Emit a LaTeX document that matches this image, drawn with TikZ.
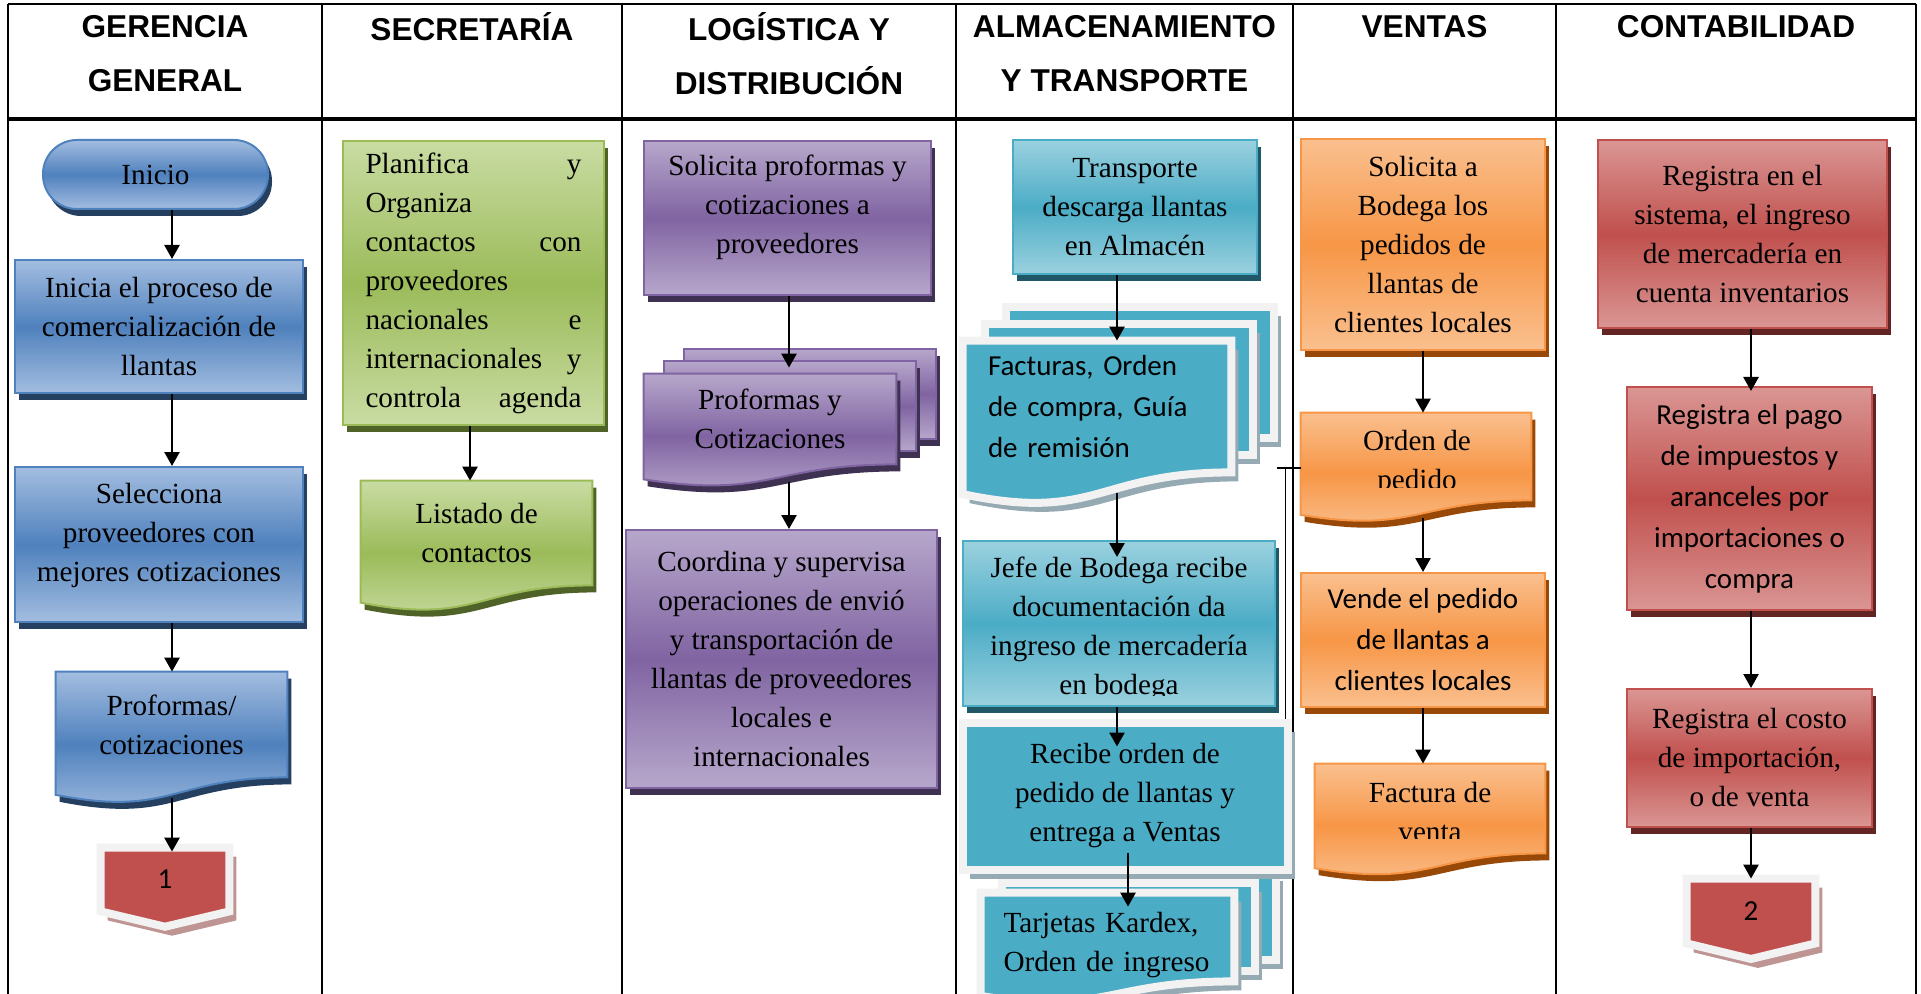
\documentclass[tikz,border=0pt]{standalone}
\usepackage{fontspec}
\setmainfont{Liberation Serif}
\newfontfamily\calibri{Carlito}
\newfontfamily\arial{Liberation Sans}
\usetikzlibrary{arrows.meta}
\usetikzlibrary{calc}
\usetikzlibrary{shadows}
\pgfdeclarelayer{fondo}
\pgfsetlayers{fondo,main}
\newcommand{\serifa}{\fontsize{14.6pt}{19.5pt}\selectfont}
\newcommand{\cali}{\calibri\fontsize{14.5pt}{20.5pt}\selectfont}
\newcommand{\cabeza}{\arial\bfseries\fontsize{15.8pt}{27pt}\selectfont}
\definecolor{azulC}{HTML}{A3BDE0}
\definecolor{azulM}{HTML}{4F81BD}
\definecolor{azulS}{HTML}{243F60}
\definecolor{verdeC}{HTML}{C9DCA3}
\definecolor{verdeM}{HTML}{9BBB59}
\definecolor{verdeS}{HTML}{4F6228}
\definecolor{moradoC}{HTML}{B7A7CB}
\definecolor{moradoM}{HTML}{8064A2}
\definecolor{moradoS}{HTML}{3F3151}
\definecolor{aguaC}{HTML}{9BD1DF}
\definecolor{aguaM}{HTML}{4BACC6}
\definecolor{aguaS}{HTML}{215868}
\definecolor{naranjaC}{HTML}{FAC08F}
\definecolor{naranjaM}{HTML}{F79646}
\definecolor{naranjaS}{HTML}{984807}
\definecolor{rojoC}{HTML}{DA9694}
\definecolor{rojoM}{HTML}{C0504D}
\definecolor{rojoS}{HTML}{632523}
\definecolor{marco}{HTML}{F2F2F2}
\definecolor{grisS}{HTML}{96AAB3}
\definecolor{rosaS}{HTML}{BE9593}
\tikzset{caja/.style = {rectangle, draw = #1M, line width = 1pt, top color = #1C, bottom color = #1C, middle color = #1M, general shadow = {fill = #1S, shadow xshift = 2pt, shadow yshift = -3.5pt}, inner sep = 0, align = center, font = \serifa}}
\tikzset{forma/.style = {draw = #1M, line width = 1pt, top color = #1C, bottom color = #1C, middle color = #1M, general shadow = {fill = #1S, shadow xshift = 2pt, shadow yshift = -3.5pt}}}
\tikzset{plano/.style = {fill = aguaM, draw = marco, line width = 4pt, general shadow = {fill = grisS, shadow xshift = 3.5pt, shadow yshift = -4.5pt}}}
\tikzset{salto/.style = {fill = rojoM, draw = marco, line width = 4pt, general shadow = {fill = rosaS, shadow xshift = 3.5pt, shadow yshift = -4.5pt}}}
\tikzset{texto/.style = {inner sep = 0, align = center, font = \serifa}}
\tikzset{titulo/.style = {inner sep = 0, align = center, font = \cabeza}}
\tikzset{flecha/.style = {line width = 1.3pt, -{Triangle[length = 7pt, width = 7.5pt]}}}
\tikzset{carril/.style = {line width = 1pt}}
\tikzset{doble/.style = {double, double distance = 1pt, line width = 0.4pt}}
% documento con borde ondulado bajo el nodo #1
\newcommand{\hoja}[2]{%
  \begin{pgfonlayer}{fondo}
    \path [#2] (#1.north west) -- (#1.north east) -- (#1.south east)
      .. controls (#1.south) and ($(#1.south)!-0.381!(#1.north)$)
      .. ($(#1.south west)!-0.1646!(#1.north west)$) -- cycle;
  \end{pgfonlayer}}
% varios documentos
\newcommand{\hojas}[4]{%
  \begin{pgfonlayer}{fondo}
    \path [#2] ([shift = {#4}]#1.north west) rectangle ([shift = {#4}]#1.south east);
    \path [#2] ([shift = {#3}]#1.north west) rectangle ([shift = {#3}]#1.south east);
  \end{pgfonlayer}
  \hoja{#1}{#2}}
% conector fuera de pagina
\newcommand{\pagina}[1]{%
  \begin{pgfonlayer}{fondo}
    \path [salto] (#1.north west) -- (#1.north east) -- (#1.south east)
      -- ($(#1.south)!-0.24!(#1.north)$) -- (#1.south west) -- cycle;
  \end{pgfonlayer}}

\begin{document}
\begin{tikzpicture}[x = 0.5pt, y = -0.5pt]
      \useasboundingbox (0, 0) rectangle (1921, 994);

      % tabla
      \draw [carril] (8, 4) -- (1916, 4);
      \draw [line width = 1.6pt] (8, 119) -- (1916, 119);
      \foreach \x in {8, 322, 622, 956, 1293, 1556, 1916}
        \draw [carril] (\x, 4) -- (\x, 994);

      \node [titulo] (h1) at (165, 54) {GERENCIA\\GENERAL};
      \node [titulo] (h2) at (472, 27) {SECRETARÍA};
      \node [titulo] (h3) at (789, 54) {LOGÍSTICA Y\\DISTRIBUCIÓN};
      \node [titulo] (h4) at (1124.5, 54) {ALMACENAMIENTO\\Y TRANSPORTE};
      \node [titulo] (h5) at (1424.5, 27) {VENTAS};
      \node [titulo] (h6) at (1736, 27) {CONTABILIDAD};

      \coordinate (ca) at (172, 0);
      \coordinate (cb) at (470, 0);
      \coordinate (cc) at (789, 0);
      \coordinate (cd) at (1117, 0);
      \coordinate (ce) at (1128, 0);
      \coordinate (cf) at (1423, 0);
      \coordinate (cg) at (1751, 0);

      % gerencia general
      \node [caja = azul, rounded corners = 17pt, minimum width = 112.5pt, minimum height = 34.5pt] (inicio) at (155.5, 174.5) {Inicio};
      \node [caja = azul, minimum width = 144pt, minimum height = 66.5pt] (inicia) at (159, 326.5) {Inicia el proceso de\\comercialización de\\llantas};
      \node [caja = azul, minimum width = 144pt, minimum height = 77.5pt] (selecciona) at (159, 544.5) {};
      \node [texto] (seleccionaT) at (159, 535) {Selecciona\\proveedores con\\mejores cotizaciones};
      \node [texto, minimum width = 115.5pt, minimum height = 52.5pt] (profG) at (171.5, 724.5) {Proformas/\\cotizaciones};
      \hoja{profG}{forma = azul}
      \node [texto, font = \cali, minimum width = 64pt, minimum height = 31.5pt] (uno) at (165, 879.5) {1};
      \pagina{uno}

      % secretaria
      \node [caja = verde, align = left, minimum width = 130.5pt, minimum height = 142pt] (planifica) at (473.5, 283) {\makebox[108pt][s]{Planifica y}\\Organiza\\\makebox[108pt][s]{contactos con}\\proveedores\\\makebox[108pt][s]{nacionales e}\\\makebox[108pt][s]{internacionales y}\\\makebox[108pt][s]{controla agenda}};
      \node [texto, minimum width = 115.5pt, minimum height = 52pt] (listado) at (476.5, 533) {Listado de\\contactos};
      \hoja{listado}{forma = verde}

      % logistica y distribucion
      \node [caja = morado, minimum width = 143.5pt, minimum height = 77pt] (solicitaP) at (787.5, 218) {};
      \node [texto] (solicitaPT) at (787.5, 207) {Solicita proformas y\\cotizaciones a\\proveedores};
      \node [texto, minimum width = 126pt, minimum height = 45pt] (profL) at (770, 419) {Proformas y\\Cotizaciones};
      \hojas{profL}{forma = morado}{(20, -13)}{(40, -25)}
      \node [caja = morado, minimum width = 155.5pt, minimum height = 129pt] (coordina) at (781.5, 659) {Coordina y supervisa\\operaciones de envió\\y transportación de\\llantas de proveedores\\locales e\\internacionales};

      % almacenamiento y transporte
      \node [caja = agua, minimum width = 122pt, minimum height = 67pt] (transporte) at (1135, 207) {Transporte\\descarga llantas\\en Almacén};
      \node [texto, font = \cali, align = left, text width = 109pt, minimum width = 134pt, minimum height = 65.5pt] (facturas) at (1097, 406.5) {Facturas, Orden\\de compra, Guía\\de remisión};
      \hojas{facturas}{plano}{(22, -17)}{(43, -34)}
      \node [caja = agua, minimum width = 156pt, minimum height = 82.5pt] (jefe) at (1119, 623.5) {};
      \begin{scope}
        \clip (963, 541) rectangle (1275, 695);
        \node [texto] (jefeT) at (1119, 628.5) {Jefe de Bodega recibe\\documentación da\\ingreso de mercadería\\en bodega};
      \end{scope}
      \node [texto, plano, minimum width = 162.5pt, minimum height = 73.5pt] (recibe) at (1125, 796) {Recibe orden de\\pedido de llantas y\\entrega a Ventas};
      \node [minimum width = 126.5pt, minimum height = 44pt] (tarjetas) at (1107.5, 937) {};
      \hojas{tarjetas}{plano}{(21, -10)}{(42, -21)}
      \node [texto, align = left, text width = 104pt] (tarjetasT) at (1107.5, 945) {Tarjetas Kardex,\\Orden de ingreso};

      % ventas
      \node [caja = naranja, minimum width = 122pt, minimum height = 105.5pt] (solicitaB) at (1423, 244.5) {Solicita a\\Bodega los\\pedidos de\\llantas de\\clientes locales};
      \node [texto, minimum width = 115pt, minimum height = 43.5pt] (orden) at (1416, 456.5) {};
      \hoja{orden}{forma = naranja}
      \begin{scope}
        \clip (1301, 413) rectangle (1531, 487);
        \node [texto] (ordenT) at (1417, 462.5) {Orden de\\pedido};
      \end{scope}
      \node [caja = naranja, font = \cali, minimum width = 122pt, minimum height = 67pt] (vende) at (1423, 640) {Vende el pedido\\de llantas a\\clientes locales};
      \node [texto, minimum width = 115pt, minimum height = 44.5pt] (factura) at (1430, 808.5) {};
      \hoja{factura}{forma = naranja}
      \begin{scope}
        \clip (1315, 764) rectangle (1545, 838);
        \node [texto] (facturaT) at (1430, 812.5) {Factura de\\venta};
      \end{scope}

      % contabilidad
      \node [caja = rojo, minimum width = 144.5pt, minimum height = 94pt] (registraA) at (1742.5, 234) {Registra en el\\sistema, el ingreso\\de mercadería en\\cuenta inventarios};
      \node [caja = rojo, font = \cali, minimum width = 122.5pt, minimum height = 111.5pt] (registraB) at (1749.5, 498.5) {Registra el pago\\de impuestos y\\aranceles por\\importaciones o\\compra};
      \node [caja = rojo, minimum width = 122.5pt, minimum height = 69pt] (registraC) at (1749.5, 758) {Registra el costo\\de importación,\\o de venta};
      \node [texto, font = \cali, minimum width = 64pt, minimum height = 32pt] (dos) at (1751, 911) {2};
      \pagina{dos}

      % orden de pedido hacia bodega
      \coordinate (c1) at (1277, 468);
      \coordinate (c2) at (1286.5, 468);
      \draw [line width = 0.6pt] (orden.west |- c1) -- (c1);
      \begin{pgfonlayer}{fondo}
        \draw [doble] (c2) -- (recibe.north -| c2);
      \end{pgfonlayer}

      % flechas
      \draw [flecha] (inicio.south -| ca) -- (inicia.north -| ca);
      \draw [flecha] (inicia.south -| ca) -- (selecciona.north -| ca);
      \draw [flecha] (selecciona.south -| ca) -- (profG.north -| ca);
      \draw [flecha, shorten <= 10.5pt, shorten >= -2pt] (profG.south -| ca) -- (uno.north -| ca);
      \draw [flecha] (planifica.south -| cb) -- (listado.north -| cb);
      \draw [flecha, shorten >= 3pt] (solicitaP.south -| cc) -- (profL.north -| cc);
      \draw [flecha, shorten <= 9pt] (profL.south -| cc) -- (coordina.north -| cc);
      \draw [flecha] (transporte.south -| cd) -- (facturas.north -| cd);
      \draw [flecha, shorten <= 10.5pt, shorten >= -8.5pt] (facturas.south -| cd) -- (jefe.north -| cd);
      \draw [flecha, shorten >= -14pt] (jefe.south -| cd) -- (recibe.north -| cd);
      \draw [flecha, shorten <= -10.5pt, shorten >= -7pt] (recibe.south -| ce) -- (tarjetas.north -| ce);
      \draw [flecha] (solicitaB.south -| cf) -- (orden.north -| cf);
      \draw [flecha, shorten <= 9pt] (orden.south -| cf) -- (vende.north -| cf);
      \draw [flecha] (vende.south -| cf) -- (factura.north -| cf);
      \draw [flecha, shorten >= -2.5pt] (registraA.south -| cg) -- (registraB.north -| cg);
      \draw [flecha] (registraB.south -| cg) -- (registraC.north -| cg);
      \draw [flecha] (registraC.south -| cg) -- (dos.north -| cg);
    \end{tikzpicture}
\end{document}
